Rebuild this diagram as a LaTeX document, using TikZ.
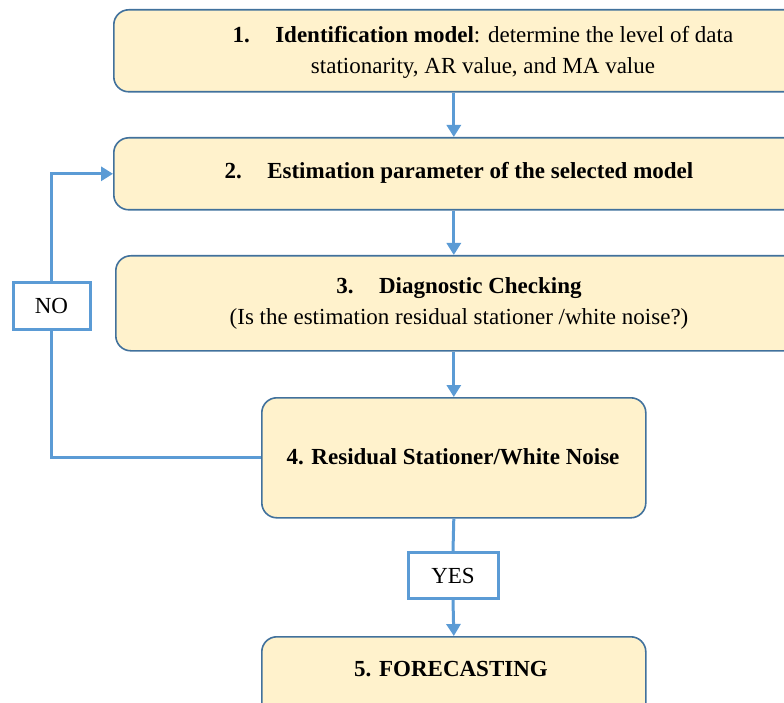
\documentclass[tikz,border=0pt]{standalone}
\usepackage{fontspec}
\setmainfont{Liberation Serif}
\usetikzlibrary{arrows.meta,positioning}
\definecolor{boxfill}{HTML}{FFF2CC}
\definecolor{boxline}{HTML}{41719C}
\definecolor{flowblue}{HTML}{5B9BD5}
\tikzset{
  stepbox/.style={draw=boxline, line width=1.6pt, fill=boxfill, rounded corners=15pt, anchor=north west},
  answer/.style={draw=flowblue, line width=3pt, fill=white, inner sep=0pt},
  flowline/.style={draw=flowblue, line width=3pt},
  flow/.style={flowline, -{Triangle[width=14pt,length=12pt]}},
}
\begin{document}
\begin{tikzpicture}[x=1pt, y=-1pt, font=\fontsize{23}{31}\selectfont]
  \useasboundingbox (0,0) rectangle (784,703);
  \clip (0,0) rectangle (784,703);
  % step boxes
  \node[stepbox, minimum width=800pt, minimum height=82pt] (ident) at (113,9) {};
  \node[stepbox, minimum width=800pt, minimum height=72pt] (estim) at (113,137) {};
  \node[stepbox, minimum width=800pt, minimum height=95pt] (diag) at (115,255) {};
  \node[stepbox, minimum width=384pt, minimum height=120pt] (residual) at (261,397) {};
  \node[stepbox, minimum width=384pt, minimum height=100pt] (forecast) at (261,636) {};
  % texts
  \node[align=center] (identtext) at (483,52) {\textbf{1.\hspace{1.1em}Identification model}: determine the level of data\\stationarity, AR value, and MA value};
  \node (estimtext) at (459,173) {\textbf{2.\hspace{1.1em}Estimation parameter of the selected model}};
  \node[align=center] (diagtext) at (459,303) {\textbf{3.\hspace{1.1em}Diagnostic Checking}\\(Is the estimation residual stationer /white noise?)};
  \node (residualtext) at (453,457) {\textbf{4. Residual Stationer/White Noise}};
  \node (forecasttext) at (451,669) {\textbf{5. FORECASTING}};
  % answers
  \node[answer, minimum width=77pt, minimum height=47pt] (no) at (51.5,306) {NO};
  \node[answer, minimum width=90pt, minimum height=46pt] (yes) at (453,575.5) {YES};
  % connectors
  \draw[flow] (ident.south -| residual.north) -- (estim.north -| residual.north);
  \draw[flow] (estim.south -| residual.north) -- (diag.north -| residual.north);
  \draw[flow] (diag.south -| residual.north) -- (residual.north);
  \draw[flowline] (residual.west) -| (no.south);
  \draw[flow] (no.north) |- (estim.west);
  \draw[flowline] (residual.south) -- (yes.north);
  \draw[flow] (yes.south) -- (forecast.north);
\end{tikzpicture}
\end{document}
